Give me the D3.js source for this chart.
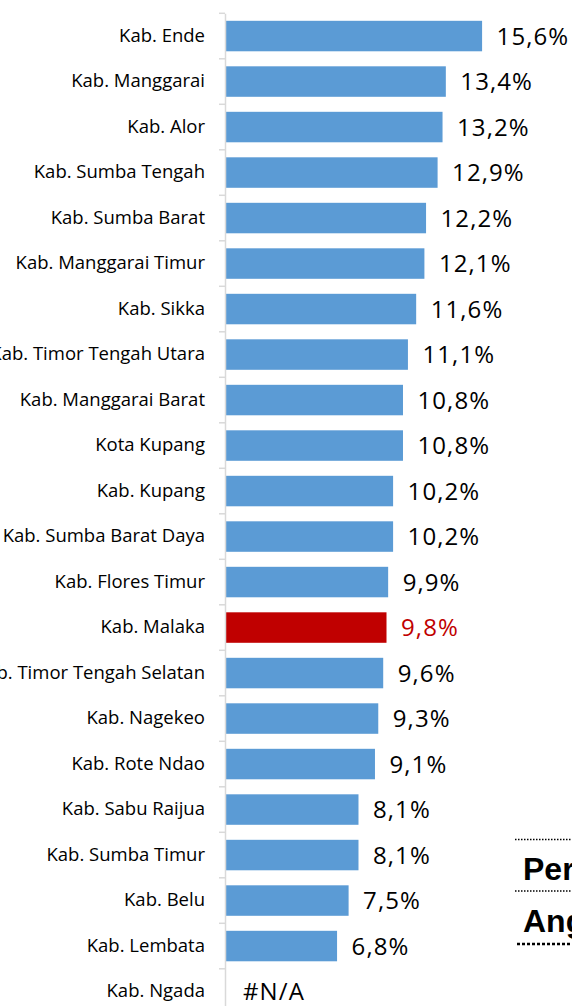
<!DOCTYPE html>
<html>
<head>
<meta charset="utf-8">
<script src="https://cdnjs.cloudflare.com/ajax/libs/d3/7.8.5/d3.min.js"></script>
<style>
  body { margin: 0; background: #fff; }
  svg { display: block; }
</style>
</head>
<body>
<script>
var regions = ["Kab. Ende", "Kab. Manggarai", "Kab. Alor", "Kab. Sumba Tengah", "Kab. Sumba Barat",
  "Kab. Manggarai Timur", "Kab. Sikka", "Kab. Timor Tengah Utara", "Kab. Manggarai Barat", "Kota Kupang",
  "Kab. Kupang", "Kab. Sumba Barat Daya", "Kab. Flores Timur", "Kab. Malaka", "Kab. Timor Tengah Selatan",
  "Kab. Nagekeo", "Kab. Rote Ndao", "Kab. Sabu Raijua", "Kab. Sumba Timur", "Kab. Belu",
  "Kab. Lembata", "Kab. Ngada"];
var values = [15.6, 13.4, 13.2, 12.9, 12.2, 12.1, 11.6, 11.1, 10.8, 10.8,
  10.2, 10.2, 9.9, 9.8, 9.6, 9.3, 9.1, 8.1, 8.1, 7.5,
  6.8, null];
var highlight = ["Kab. Malaka"];
var sideLabels = ["Per", "Ang"];

var W = 572, H = 1006;
var data = regions.map(function(r, i){ return {name: r, value: values[i]}; });

var xScale = d3.scaleLinear().domain([0, 20]).range([225, 225 + 20 * 16.48]);
var yScale = d3.scaleBand().domain(regions).range([13.3, 13.3 + 22 * 45.5]).paddingInner(0.33).paddingOuter(0.165);

var fmt = function(v){ return v == null ? "#N/A" : v.toFixed(1).replace(".", ",") + "%"; };

var svg = d3.select("body").append("svg").attr("width", W).attr("height", H);

// bars
svg.append("g").selectAll("rect").data(data.filter(function(d){ return d.value != null; }))
  .enter().append("rect")
  .attr("x", xScale(0) + 1)
  .attr("y", function(d){ return yScale(d.name); })
  .attr("height", yScale.bandwidth())
  .attr("width", function(d){ return xScale(d.value) - xScale(0) - 1; })
  .attr("fill", function(d){ return highlight.indexOf(d.name) >= 0 ? "#C00000" : "#5B9BD5"; });

// value labels
svg.append("g").selectAll("text").data(data)
  .enter().append("text")
  .attr("x", function(d){ return xScale(d.value == null ? 0 : d.value) + (d.value == null ? 18 : 14.5); })
  .attr("y", function(d){ return yScale(d.name) + yScale.bandwidth() / 2; })
  .attr("dy", "0.37em")
  .attr("font-family", "'Open Sans', sans-serif")
  .attr("font-size", 24)
  .attr("letter-spacing", 1.1)
  .attr("fill", function(d){ return highlight.indexOf(d.name) >= 0 ? "#C00000" : "#000"; })
  .text(function(d){ return fmt(d.value); });

// category axis
var yAxis = d3.axisLeft(yScale).tickSize(0).tickPadding(20);
var ax = svg.append("g").attr("transform", "translate(" + xScale(0) + ",0)").call(yAxis);
ax.select(".domain").attr("stroke", "#D9D9D9").attr("stroke-width", 1.5);
ax.selectAll("text")
  .attr("font-family", "'Open Sans', sans-serif")
  .attr("font-size", 18.5)
  .attr("fill", "#000");

// tick marks between categories
var step = yScale.step();
var bounds = regions.map(function(r){ return yScale(r) - step * yScale.paddingInner() / 2; });
svg.append("g").selectAll("line").data(bounds).enter().append("line")
  .attr("x1", xScale(0) - 6).attr("x2", xScale(0))
  .attr("y1", function(d){ return d; }).attr("y2", function(d){ return d; })
  .attr("stroke", "#D9D9D9").attr("stroke-width", 1.5);

// clipped text box at the lower right
var box = svg.append("g");
[839.5, 891, 944].forEach(function(yy, i){
  box.append("line").attr("x1", i == 2 ? 517 : 515).attr("x2", W).attr("y1", yy).attr("y2", yy)
    .attr("stroke", "#000").attr("stroke-width", i == 2 ? 2.5 : 1.5)
    .attr("stroke-dasharray", i == 2 ? "3,2" : "1.5,1.5");
});
box.selectAll("text").data(sideLabels).enter().append("text")
  .attr("x", 523)
  .attr("y", function(d, i){ return 880 + i * 52; })
  .attr("font-family", "'Liberation Sans', Arial, sans-serif")
  .attr("font-weight", "bold")
  .attr("font-size", 32)
  .text(function(d){ return d; });
</script>
</body>
</html>
